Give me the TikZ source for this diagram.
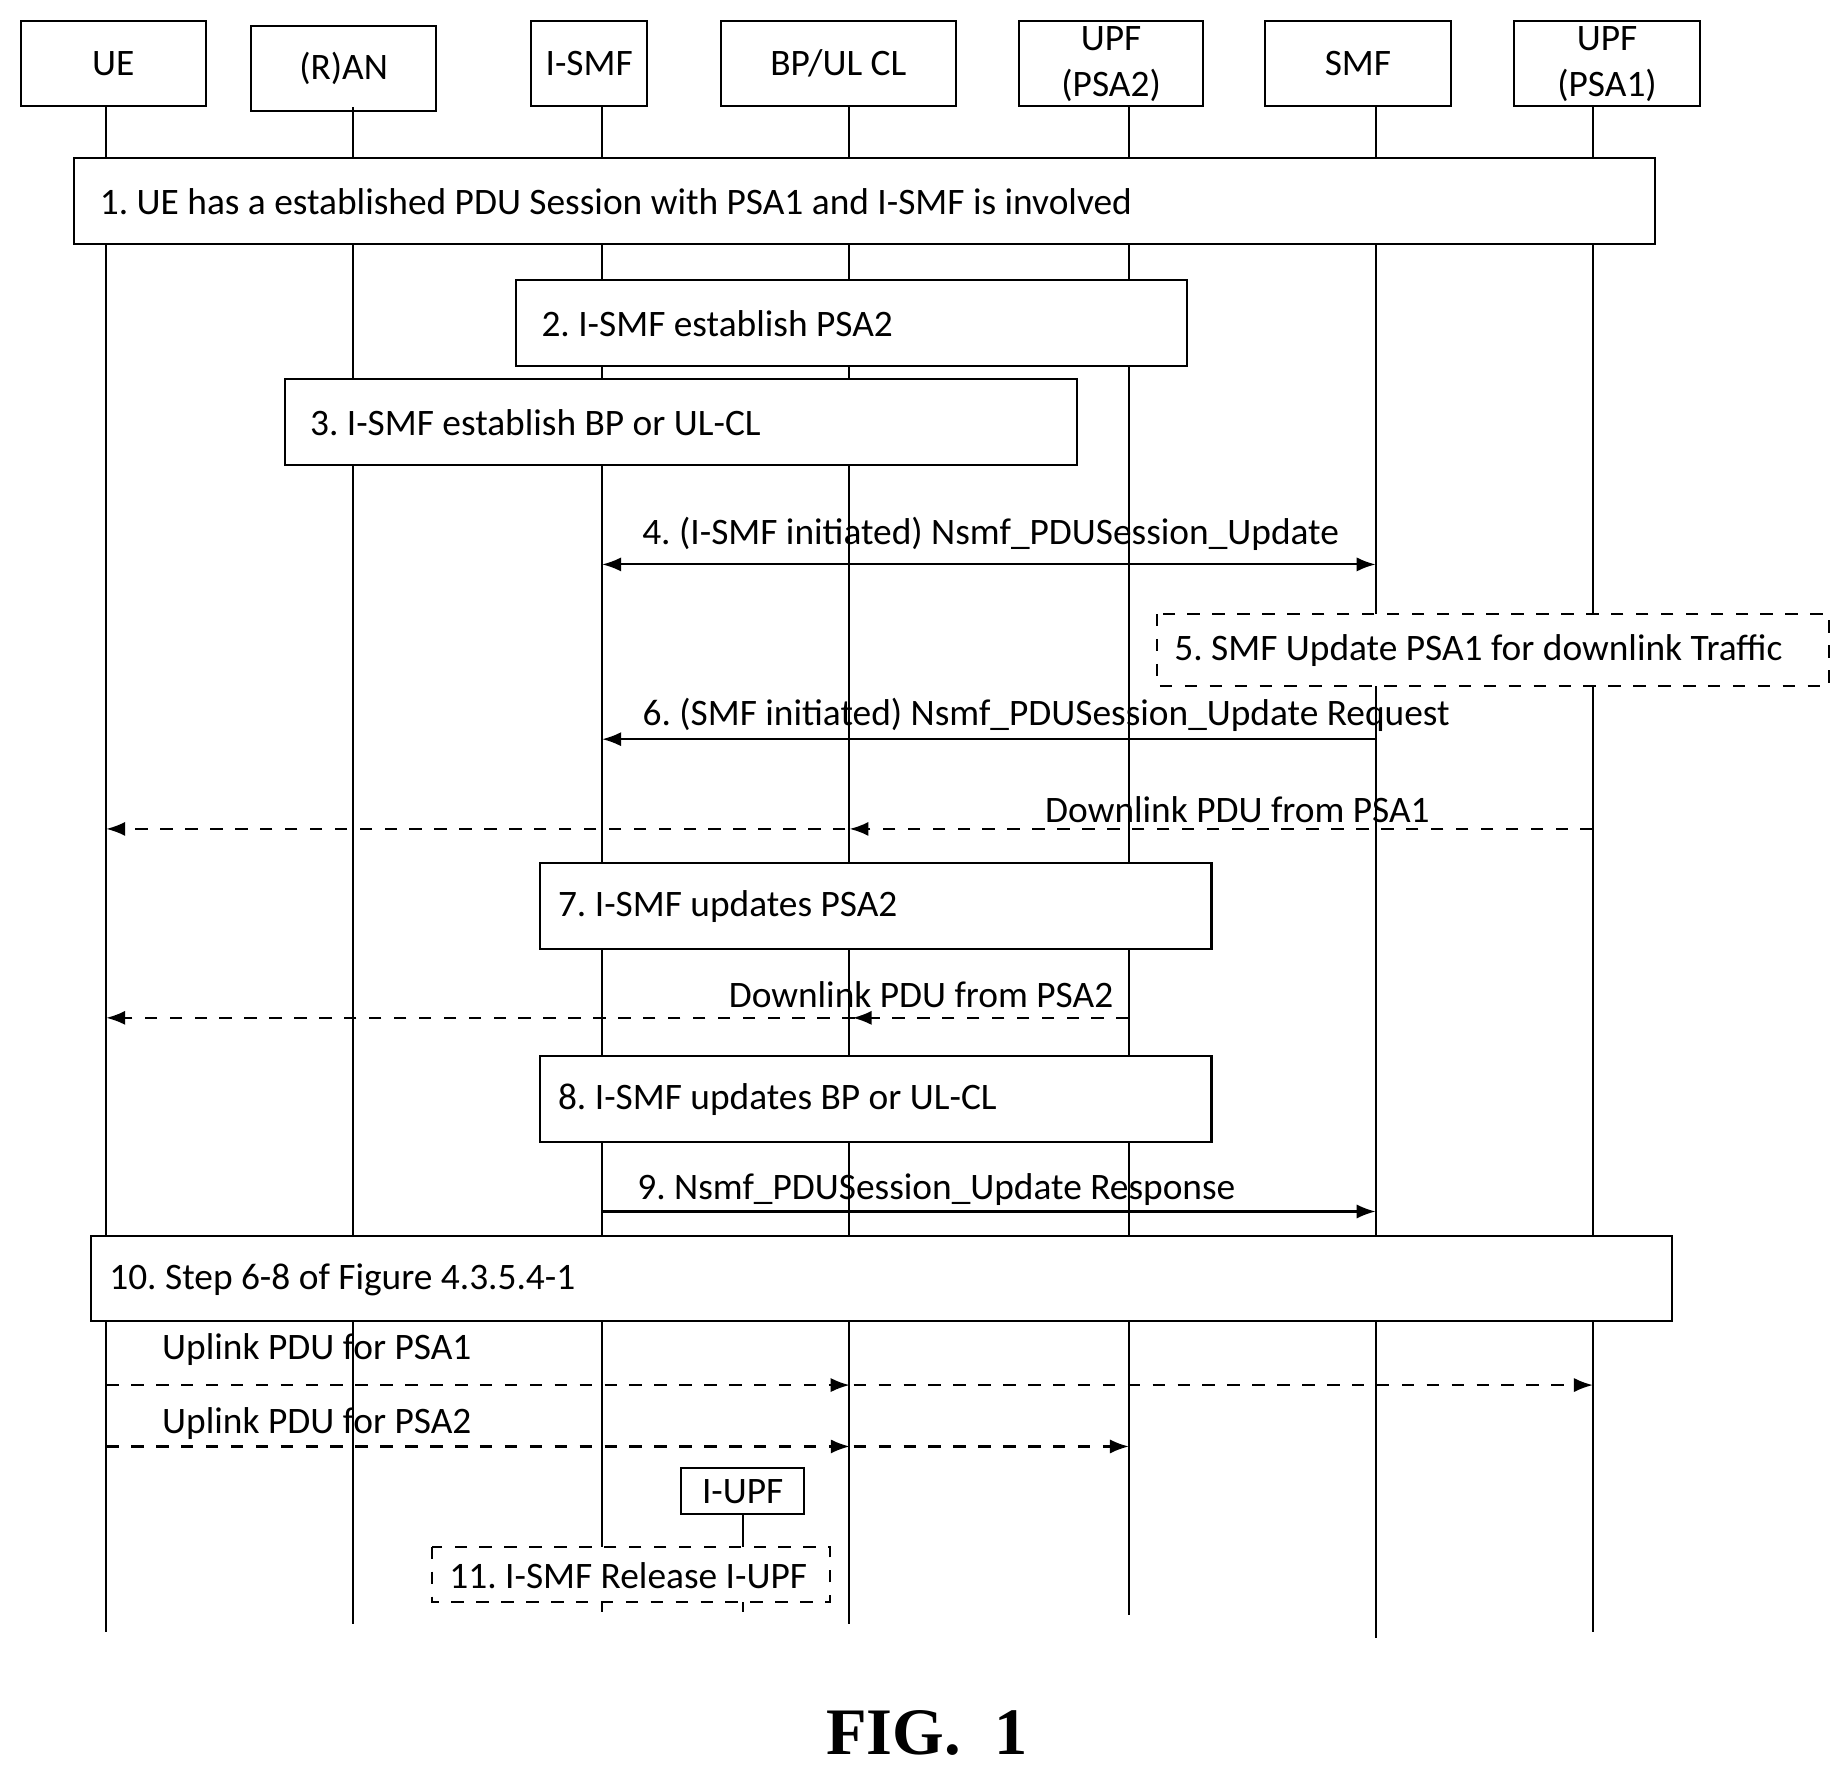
\documentclass[tikz,border=0pt]{standalone}
\usepackage{fontspec}
\setmainfont{Carlito}
\newfontfamily\figfont{Liberation Serif}
\frenchspacing
\usetikzlibrary{arrows.meta,decorations.markings}
\tikzset{
  actor/.style={draw, minimum height=0.72cm, align=center, font=\fontsize{9}{10}\selectfont},
  stepbox/.style={draw, fill=white},
  steptext/.style={anchor=west, font=\fontsize{9}{10}\selectfont},
  msg/.style={-{Latex[length=1.6mm,width=1.2mm]}},
  dmsg/.style={msg, dashed},
  midtip/.style={postaction={decorate}, decoration={markings, mark=at position #1 with {\arrow{Latex[length=1.6mm,width=1.2mm]}}}},
  lbl/.style={font=\fontsize{9}{10}\selectfont, inner sep=1pt}
}
\begin{document}
\begin{tikzpicture}[x=0.01cm, y=-0.01cm, line width=0.5pt]
\useasboundingbox (0,0) rectangle (1560,1496);
% actors
\node[actor, minimum width=1.57cm] (ue) at (96,54) {UE};
\node[actor, minimum width=1.57cm] (ran) at (291,58) {(R)AN};
\node[actor, minimum width=0.98cm] (ismf) at (499,54) {I-SMF};
\node[actor, minimum width=1.99cm] (bp) at (710,54) {BP/UL CL};
\node[actor, minimum width=1.56cm, inner sep=0pt] (upf2) at (941,54) {UPF\\[1pt](PSA2)};
\node[actor, minimum width=1.57cm] (smf) at (1150,54) {SMF};
\node[actor, minimum width=1.58cm, inner sep=0pt] (upf1) at (1361,54) {UPF\\[1pt](PSA1)};
% lifelines
\foreach \n/\x/\e in {ue/90/1382, ran/299/1375, ismf/510/1365, bp/719/1375, upf2/956/1368, smf/1165/1387, upf1/1349/1382}{
  \coordinate (\n top) at (\x,91);
  \coordinate (\n bot) at (\x,\e);
  \draw (\n top) -- (\n bot);
}
% steps
\draw[stepbox] (63,134) rectangle (1402,207);
\node[steptext] (s1) at (72,171) {1. UE has a established PDU Session with PSA1 and I-SMF is involved};
\draw[stepbox] (437,237) rectangle (1005,310);
\node[steptext] (s2) at (446,274) {2. I-SMF establish PSA2};
\draw[stepbox] (241,321) rectangle (912,394);
\node[steptext] (s3) at (250,358) {3. I-SMF establish BP or UL-CL};
\coordinate (m4a) at (510,478); \coordinate (m4b) at (1165,478);
\draw[{Latex[length=1.6mm,width=1.2mm]}-{Latex[length=1.6mm,width=1.2mm]}] (m4a) -- (m4b);
\node[lbl] (l4) at (839,452) {4. (I-SMF initiated) Nsmf\_PDUSession\_Update};
\draw[stepbox, dashed] (980,520) rectangle (1549,581);
\node[steptext] (s5) at (982,551) {5. SMF Update PSA1 for downlink Traffic};
\coordinate (m6a) at (1165,626); \coordinate (m6b) at (510,626);
\draw[msg] (m6a) -- (m6b);
\node[lbl] (l6) at (886,605) {6. (SMF initiated) Nsmf\_PDUSession\_Update Request};
\coordinate (d1a) at (1349,702); \coordinate (d1b) at (90,702);
\draw[dmsg, midtip=0.5] (d1a) -- (d1b);
\node[lbl] (ld1) at (1048,686) {Downlink PDU from PSA1};
\draw[stepbox] (457,731) rectangle (1026,804);
\node[steptext] (s7) at (460,768) {7. I-SMF updates PSA2};
\coordinate (d2a) at (956,862); \coordinate (d2b) at (90,862);
\draw[dmsg, midtip=0.27] (d2a) -- (d2b);
\node[lbl] (ld2) at (780,842) {Downlink PDU from PSA2};
\draw[stepbox] (457,894) rectangle (1026,967);
\node[steptext] (s8) at (460,931) {8. I-SMF updates BP or UL-CL};
\coordinate (m9a) at (510,1026); \coordinate (m9b) at (1165,1026);
\draw[msg] (m9a) -- (m9b);
\node[lbl] (l9) at (793,1007) {9. Nsmf\_PDUSession\_Update Response};
\draw[stepbox] (77,1047) rectangle (1416,1119);
\node[steptext] (s10) at (80,1084) {10. Step 6-8 of Figure 4.3.5.4-1};
\coordinate (u1a) at (90,1173); \coordinate (u1b) at (1349,1173);
\draw[dmsg, midtip=0.5] (u1a) -- (u1b);
\node[lbl, anchor=west] (lu1) at (133,1143) {Uplink PDU for PSA1};
\coordinate (u2a) at (90,1225); \coordinate (u2b) at (956,1225);
\draw[dmsg, midtip=0.727] (u2a) -- (u2b);
\node[lbl, anchor=west] (lu2) at (133,1206) {Uplink PDU for PSA2};
% I-UPF
\node[actor, minimum width=1.04cm, minimum height=0.39cm, inner sep=1pt] (iupf) at (629,1263) {I-UPF};
\coordinate (iupfbot) at (629,1365);
\draw (iupf.south) -- (iupfbot);
\draw[stepbox, dashed] (366,1310) rectangle (703,1357);
\node[steptext] (s11) at (368,1334) {11. I-SMF Release I-UPF};
\draw (629,1357) -- (iupfbot);
% caption
\node[font=\figfont\bfseries\fontsize{16}{18}\selectfont] (fig) at (785,1468) {FIG.\ \ 1};
\end{tikzpicture}
\end{document}
